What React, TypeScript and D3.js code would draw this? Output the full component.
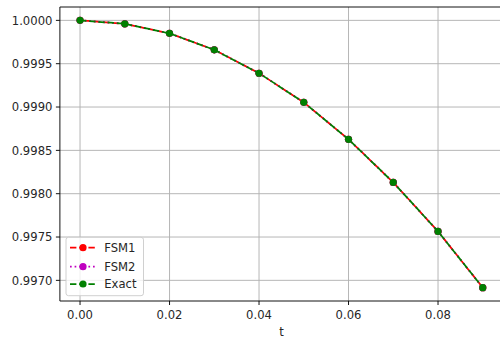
import React from "react";
import * as d3 from "d3";

// data
const tValues = [0.0, 0.01, 0.02, 0.03, 0.04, 0.05, 0.06, 0.07, 0.08, 0.09];
const fsm1 = [1.0, 0.99996, 0.99985, 0.99966, 0.99939, 0.999054, 0.998627, 0.99813, 0.997565, 0.996916];
const fsm2 = [1.0, 0.99996, 0.99985, 0.99966, 0.99939, 0.999054, 0.998627, 0.99813, 0.997565, 0.996916];
const exact = [1.0, 0.99996, 0.99985, 0.99966, 0.99939, 0.999054, 0.998627, 0.99813, 0.997565, 0.996916];
const xTicks = [0.0, 0.02, 0.04, 0.06, 0.08];
const yTicks = [0.997, 0.9975, 0.998, 0.9985, 0.999, 0.9995, 1.0];

const W = 500;
const H = 338;
const left = 59.9;
const top = 7;
const bottom = 301;
const right = 502.9;
const font = "DejaVu Sans";
const fs = 11.6;

const series = [
  { name: "FSM1", values: fsm1, color: "#ff0000", dash: "6.4,2.8", offset: 4.6 },
  { name: "FSM2", values: fsm2, color: "#bf00bf", dash: "1.7,2.9", offset: 0 },
  { name: "Exact", values: exact, color: "#008000", dash: "6.4,2.8", offset: 0 },
];

export default function App() {
  const tExt = d3.extent(tValues) as [number, number];
  const tPad = (tExt[1] - tExt[0]) * 0.05;
  const x = d3.scaleLinear().domain([tExt[0] - tPad, tExt[1] + tPad]).range([left, right]);

  const all = [...fsm1, ...fsm2, ...exact];
  const yMin = d3.min(all)!;
  const yMax = d3.max(all)!;
  const yPad = (yMax - yMin) * 0.05;
  const y = d3.scaleLinear().domain([yMin - yPad, yMax + yPad]).range([bottom, top]);

  const line = d3
    .line<number>()
    .x((_, i) => x(tValues[i]))
    .y((d) => y(d));

  const legendY = [247.7, 266.7, 284];

  return (
    <svg
      width={W}
      height={H}
      style={{ position: "absolute", left: 0, top: 0, display: "block" }}
      fontFamily={font}
    >
      <rect width={W} height={H} fill="#fff" />
      {/* grid */}
      {xTicks.map((t) => (
        <line key={"gx" + t} x1={x(t)} x2={x(t)} y1={top} y2={bottom} stroke="#b0b0b0" strokeWidth={0.93} />
      ))}
      {yTicks.map((t) => (
        <line key={"gy" + t} x1={left} x2={right} y1={y(t)} y2={y(t)} stroke="#b0b0b0" strokeWidth={0.93} />
      ))}

      {/* series */}
      {series.map((s) => (
        <g key={s.name}>
          <path
            d={line(s.values)!}
            fill="none"
            stroke={s.color}
            strokeWidth={1.75}
            strokeDasharray={s.dash}
            strokeDashoffset={s.offset}
          />
          {s.values.map((v, i) => (
            <circle key={i} cx={x(tValues[i])} cy={y(v)} r={3.6} fill={s.color} />
          ))}
        </g>
      ))}

      {/* spines */}
      <line x1={left} x2={left} y1={top} y2={bottom} stroke="#000" strokeWidth={0.93} />
      <line x1={left} x2={right} y1={bottom} y2={bottom} stroke="#000" strokeWidth={0.93} />
      <line x1={left} x2={right} y1={top} y2={top} stroke="#000" strokeWidth={0.93} />

      {/* x ticks */}
      {xTicks.map((t) => (
        <g key={"xt" + t}>
          <line x1={x(t)} x2={x(t)} y1={bottom} y2={bottom + 4} stroke="#000" strokeWidth={0.93} />
          <text x={x(t)} y={bottom + 17.5} textAnchor="middle" fontSize={fs} fill="#262626">
            {d3.format(".2f")(t)}
          </text>
        </g>
      ))}
      <text x={(left + right) / 2} y={335.5} textAnchor="middle" fontSize={fs} fill="#262626">
        t
      </text>

      {/* y ticks */}
      {yTicks.map((t) => (
        <g key={"yt" + t}>
          <line x1={left - 4} x2={left} y1={y(t)} y2={y(t)} stroke="#000" strokeWidth={0.93} />
          <text x={left - 7.5} y={y(t)} dy="0.36em" textAnchor="end" fontSize={fs} fill="#262626">
            {d3.format(".4f")(t)}
          </text>
        </g>
      ))}

      {/* legend */}
      <rect x={66} y={237.3} width={77.5} height={58.4} rx={2.5} fill="#fff" fillOpacity={0.8} stroke="#cccccc" strokeWidth={0.93} />
      {series.map((s, i) => (
        <g key={"lg" + s.name}>
          <line x1={70} x2={95} y1={legendY[i]} y2={legendY[i]} stroke={s.color} strokeWidth={1.75} strokeDasharray={s.dash} />
          <circle cx={83} cy={legendY[i]} r={3.6} fill={s.color} />
          <text x={104.3} y={legendY[i]} dy="0.36em" fontSize={fs} fill="#262626">
            {s.name}
          </text>
        </g>
      ))}
    </svg>
  );
}
